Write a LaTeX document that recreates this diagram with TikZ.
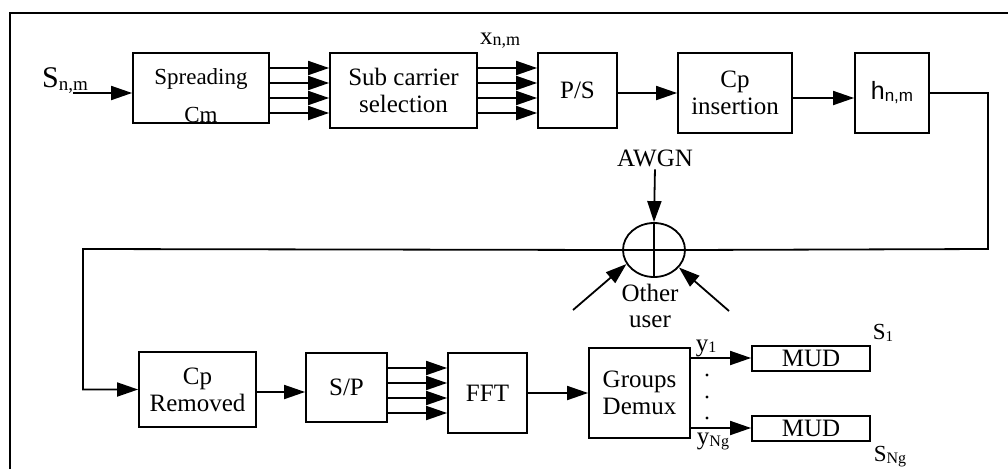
\documentclass[tikz,border=0pt]{standalone}
\usepackage{fontspec}
\setmainfont{Liberation Serif}
\newfontfamily\arialf{Liberation Sans}
\usetikzlibrary{arrows.meta,shapes.geometric,calc}
\begin{document}
\begin{tikzpicture}[x=1pt,y=-1pt, line width=1.8pt,
  blk/.style={draw, rectangle, inner sep=0pt, align=center, font=\fontsize{25}{27}\selectfont},
  arr/.style={-{Triangle[length=21pt,width=14pt]}},
  lbl/.style={inner sep=0pt, align=center, font=\fontsize{25}{26}\selectfont}]
\useasboundingbox (0,0) rectangle (1008,469);
% frame
\draw (10,469) -- (10,13) -- (1008,13);
% top row
\node[blk, minimum width=136pt, minimum height=70pt] (spread) at (201,88) {};
\node[lbl, font=\fontsize{23}{38}\selectfont] (spreadtxt) at (201,96) {Spreading\\Cm};
\node[blk, minimum width=147pt, minimum height=75pt] (sub) at (403.5,90.5) {Sub carrier\\selection};
\node[blk, minimum width=79pt, minimum height=75pt] (ps) at (577.5,90.5) {P/S};
\node[blk, minimum width=114pt, minimum height=80pt] (cpi) at (735,93) {Cp\\insertion};
\node[blk, minimum width=74pt, minimum height=80pt] (h) at (892,93)
  {\arialf\fontsize{25}{25}\selectfont h\raisebox{-2pt}{\fontsize{17}{17}\selectfont n,m}};
% summing junction
\node[draw, ellipse, minimum width=62pt, minimum height=54pt, inner sep=0pt] (sum) at (654,250) {};
\draw (sum.north) -- (sum.south);
\draw (sum.west) -- (sum.east);
% bottom row
\node[blk, minimum width=117pt, minimum height=75pt] (cpr) at (197.5,389.5) {Cp\\Removed};
\node[blk, minimum width=81pt, minimum height=69pt] (sp) at (346.5,387.5) {S/P};
\node[blk, minimum width=79pt, minimum height=80pt] (fft) at (487.5,393) {FFT};
\node[blk, minimum width=101pt, minimum height=90pt] (gd) at (639.5,393) {Groups\\Demux};
\node[blk, minimum width=118pt, minimum height=25pt] (mud1) at (811,358.5) {MUD};
\node[blk, minimum width=118pt, minimum height=25pt] (mud2) at (811,428.5) {MUD};
% labels
\node[lbl] (snm) at (65,81) {{\fontsize{30}{30}\selectfont S}\raisebox{-3pt}{\fontsize{19}{19}\selectfont n,m}};
\coordinate (in) at (73,93);
\node[lbl] (xnm) at (500,41) {x\raisebox{-1pt}{\fontsize{18}{18}\selectfont n,m}};
\node[lbl] (awgn) at (655,158) {AWGN};
\node[lbl] (ou) at (650,306) {Other\\user};
\coordinate (ou1) at (573,310);
\coordinate (ou2) at (729,311);
\node[lbl] (y1) at (706,348) {y\raisebox{-1pt}{\fontsize{16}{16}\selectfont 1}};
\node[lbl] (yng) at (713,441) {y\raisebox{-2pt}{\fontsize{16}{16}\selectfont Ng}};
\node[lbl, font=\fontsize{23}{23}\selectfont] (s1) at (883,333) {S\raisebox{-2pt}{\fontsize{15}{15}\selectfont 1}};
\node[lbl, font=\fontsize{23}{23}\selectfont] (sng) at (890,457) {S\raisebox{-2pt}{\fontsize{16}{16}\selectfont Ng}};
% dots
\fill (707,375) circle (1.6pt);
\fill (707,397) circle (1.6pt);
\fill (707,418) circle (1.6pt);
% connectors top
\draw[arr] (in) -- (spread.west |- in);
\foreach \o in {20,5,-10,-25} {
  \coordinate (p) at ([yshift=\o pt]spread.east);
  \draw[arr] (p) -- (sub.west |- p);
}
\foreach \o in {22.5,7.5,-7.5,-22.5} {
  \coordinate (p) at ([yshift=\o pt]sub.east);
  \draw[arr] (p) -- (ps.west |- p);
}
\coordinate (p1) at ([yshift=-2.5pt]ps.east);
\draw[arr] (p1) -- (cpi.west |- p1);
\coordinate (p2) at ([yshift=-5pt]cpi.east);
\draw[arr] (p2) -- (h.west |- p2);
% channel loop
\coordinate (rt) at (988,249);
\coordinate (lf) at (83,249);
\draw (h.east) -| (rt) -- (sum.east);
\draw[arr] (sum.west) -- (lf) |- (cpr.west);
\draw[arr, shorten <=2pt] (awgn.south) -- (sum.north);
\draw[arr] (ou1) -- (sum.207);
\draw[arr] (ou2) -- (sum.-35);
% connectors bottom
\coordinate (p3) at ([yshift=-2.5pt]cpr.east);
\draw[arr] (p3) -- (sp.west |- p3);
\foreach \o in {19.5,4.5,-10.5,-25.5} {
  \coordinate (p) at ([yshift=\o pt]sp.east);
  \draw[arr] (p) -- (fft.west |- p);
}
\draw[arr] (fft.east) -- (gd.west);
\coordinate (p4) at ([yshift=35pt]gd.east);
\draw[arr] (p4) -- (mud1.west |- p4);
\coordinate (p5) at ([yshift=-35pt]gd.east);
\draw[arr] (p5) -- (mud2.west |- p5);
\end{tikzpicture}
\end{document}
